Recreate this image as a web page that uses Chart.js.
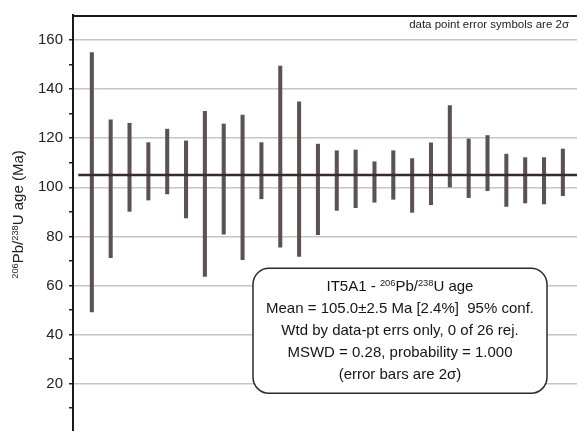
<!DOCTYPE html>
<html><head><meta charset="utf-8">
<script src="https://cdn.jsdelivr.net/npm/chart.js@4.4.1/dist/chart.umd.min.js"></script>
<style>html,body{margin:0;padding:0;background:#fff;}canvas{display:block;}</style>
</head><body>
<canvas id="c" width="577" height="431"></canvas>
<script>
// ---- data ----
const spots   = [1,2,3,4,5,6,7,8,9,10,11,12,13,14,15,16,17,18,19,20,21,22,23,24,25,26];
const ageLow  = [49.2,71.3,90.2,94.8,97.3,87.5,63.7,80.9,70.5,95.3,75.6,71.8,80.7,90.6,91.7,93.9,95.1,89.8,92.9,100.1,95.8,98.6,92.2,93.6,93.2,96.6];
const ageHigh = [154.9,127.5,126.1,118.2,123.7,118.9,130.9,125.8,129.4,118.2,149.4,134.8,117.6,114.9,115.2,110.4,114.9,111.7,118.1,133.3,119.7,121.1,113.5,112.1,112.1,115.6];
const meanAge = 105.0;
const meanSpan = [0.28, 26.75];
const yTickValues  = [10,20,30,40,50,60,70,80,90,100,110,120,130,140,150,160];
const yLabelValues = [20,40,60,80,100,120,140,160];
const noteText = 'data point error symbols are 2\u03C3';
const boxLines = [
  [{t:'IT5A1 - '},{t:'206',sup:true},{t:'Pb/'},{t:'238',sup:true},{t:'U age'}],
  [{t:'Mean = 105.0\u00B12.5 Ma [2.4%]  95% conf.'}],
  [{t:'Wtd by data-pt errs only, 0 of 26 rej.'}],
  [{t:'MSWD = 0.28, probability = 1.000'}],
  [{t:'(error bars are 2\u03C3)'}]
];
const yTitle = [{t:'206',sup:true},{t:'Pb/'},{t:'238',sup:true},{t:'U age (Ma)'}];

const FONT = '"Liberation Sans", Arial, Helvetica, sans-serif';

function drawRich(ctx, parts, cx, cy, size){
  let w = 0;
  parts.forEach(p=>{ctx.font=(p.sup?size*0.62:size)+'px '+FONT; w+=ctx.measureText(p.t).width;});
  let x = cx - w/2;
  const base = cy + size*0.36;
  ctx.textAlign='left'; ctx.textBaseline='alphabetic';
  parts.forEach(p=>{
    const s = p.sup?size*0.62:size;
    ctx.font = s+'px '+FONT;
    ctx.fillText(p.t, x, p.sup ? base - size*0.38 : base);
    x += ctx.measureText(p.t).width;
  });
}

const decor = {
  id:'decor',
  afterDraw(chart){
    const ctx = chart.ctx, a = chart.chartArea;
    ctx.save();
    // top frame line
    ctx.strokeStyle='#1a1a1a'; ctx.lineWidth=2;
    ctx.beginPath(); ctx.moveTo(a.left-1, a.top+1); ctx.lineTo(a.right, a.top+1); ctx.stroke();
    // note
    ctx.fillStyle='#222'; ctx.font='11.5px '+FONT; ctx.textAlign='right'; ctx.textBaseline='middle';
    ctx.fillText(noteText, a.right-8, a.top+10);
    // y title
    ctx.save();
    ctx.translate(18, 214.5); ctx.rotate(-Math.PI/2);
    ctx.fillStyle='#222';
    drawRich(ctx, yTitle, 0, 0, 15);
    ctx.restore();
    // info box
    const bx=a.left+180, by=268.3, bw=294, bh=125, r=16;
    ctx.beginPath();
    ctx.moveTo(bx+r,by); ctx.lineTo(bx+bw-r,by); ctx.arcTo(bx+bw,by,bx+bw,by+r,r);
    ctx.lineTo(bx+bw,by+bh-r); ctx.arcTo(bx+bw,by+bh,bx+bw-r,by+bh,r);
    ctx.lineTo(bx+r,by+bh); ctx.arcTo(bx,by+bh,bx,by+bh-r,r);
    ctx.lineTo(bx,by+r); ctx.arcTo(bx,by,bx+r,by,r); ctx.closePath();
    ctx.fillStyle='#fff'; ctx.fill();
    ctx.strokeStyle='#2a2a2a'; ctx.lineWidth=1.5; ctx.stroke();
    ctx.fillStyle='#151515';
    boxLines.forEach((ln,i)=>drawRich(ctx, ln, bx+bw/2, by+17.5+i*21.9, 15));
    ctx.restore();
  }
};

new Chart(document.getElementById('c'), {
  data:{
    datasets:[
      {type:'line', order:1, data:[{x:meanSpan[0],y:meanAge},{x:meanSpan[1],y:meanAge}],
       borderColor:'#3a2a2a', borderWidth:2.6, pointRadius:0, fill:false},
      {type:'bar', order:2, data: spots.map((s,i)=>({x:s, y:[ageLow[i], ageHigh[i]]})),
       backgroundColor:'#5b5254', borderWidth:0, barThickness:3.4}
    ]
  },
  options:{
    responsive:false, animation:false,
    layout:{padding:{top:15,right:0,bottom:0,left:0}},
    plugins:{legend:{display:false}, tooltip:{enabled:false}},
    scales:{
      x:{type:'linear', display:false, min:0, max:26.75, offset:false},
      y:{type:'linear', min:0.7, max:170.2,
         afterBuildTicks(s){ s.ticks = yTickValues.map(v=>({value:v})); },
         afterFit(s){ s.width = 73; s.paddingTop = 0; s.paddingBottom = 0; },
         ticks:{autoSkip:false, padding:6, color:'#222', font:{family:FONT, size:15},
                callback:v=> yLabelValues.includes(v) ? String(v) : ''},
         grid:{color:c=> (c.tick && yLabelValues.includes(c.tick.value)) ? '#c6c6c6' : 'rgba(0,0,0,0)',
               lineWidth:1.5, tickLength:4, tickColor:'#222', tickWidth:1.5},
         border:{display:true, color:'#1a1a1a', width:2}
      }
    }
  },
  plugins:[decor]
});
</script>
</body></html>
